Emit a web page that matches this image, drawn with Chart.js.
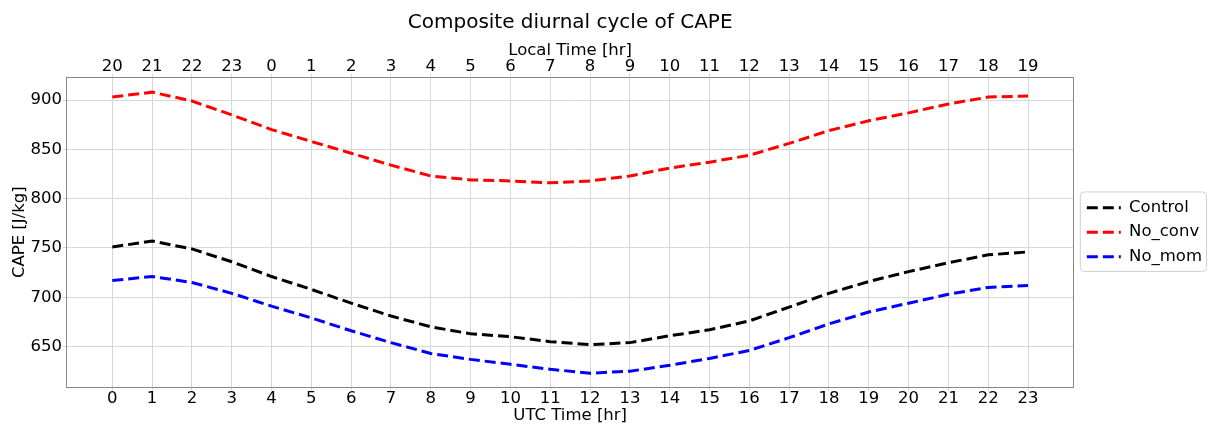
<!DOCTYPE html>
<html>
<head>
<meta charset="utf-8">
<script src="https://cdn.jsdelivr.net/npm/chart.js@4.4.0/dist/chart.umd.min.js"></script>
<style>
  html, body { margin: 0; padding: 0; background: #fff; }
  #wrap { width: 1212px; height: 425px; }
</style>
</head>
<body>
<div id="wrap"><canvas id="capeChart"></canvas></div>
<script>
const utcHours = [0, 1, 2, 3, 4, 5, 6, 7, 8, 9, 10, 11, 12, 13, 14, 15, 16, 17, 18, 19, 20, 21, 22, 23];
const localHours = [20, 21, 22, 23, 0, 1, 2, 3, 4, 5, 6, 7, 8, 9, 10, 11, 12, 13, 14, 15, 16, 17, 18, 19];
const capeTicks = [650, 700, 750, 800, 850, 900];

const control = [751, 757, 749, 736, 721, 708, 694, 681, 670, 663, 660, 655, 652, 654, 661, 667, 676, 690, 704, 716, 726, 735, 743, 746];
const noConv = [903, 908, 899, 885, 870, 858, 846, 834, 823, 819, 818, 816, 818, 823, 831, 837, 844, 856, 869, 879, 887, 896, 903, 904];
const noMom = [717, 721, 715, 704, 691, 679, 666, 654, 643, 637, 632, 627, 623, 625, 631, 638, 646, 659, 673, 685, 694, 703, 710, 712];

const fontName = "'DejaVu Sans', sans-serif";
const tickFont = { family: fontName, size: 16.5, lineHeight: 1 };

function series(label, values, color) {
  return {
    label: label,
    data: utcHours.map((h, i) => ({ x: h, y: values[i] })),
    borderColor: color,
    backgroundColor: color,
    borderWidth: 3,
    borderDash: [11, 5],
    pointRadius: 0,
    pointStyle: 'line',
    tension: 0,
    fill: false
  };
}

// rounded border round the legend, like matplotlib's legend frame
const legendFrame = {
  id: 'legendFrame',
  afterDraw(chart) {
    const boxes = chart.legend.legendHitBoxes;
    if (!boxes || !boxes.length) return;
    const ctx = chart.ctx;
    const l = Math.min(...boxes.map(b => b.left)) - 7;
    const t = Math.min(...boxes.map(b => b.top)) - 8;
    const r = Math.max(...boxes.map(b => b.left + b.width)) + 4;
    const btm = Math.max(...boxes.map(b => b.top + b.height)) + 6;
    ctx.save();
    ctx.strokeStyle = '#d0d0d0';
    ctx.lineWidth = 1;
    ctx.beginPath();
    ctx.roundRect(l + 0.5, t + 0.5, r - l, btm - t, 4);
    ctx.stroke();
    ctx.restore();
  }
};

const xCommon = {
  type: 'linear',
  min: -1.15,
  max: 24.15,
  afterBuildTicks: (axis) => { axis.ticks = utcHours.map(v => ({ value: v })); }
};

new Chart(document.getElementById('capeChart'), {
  type: 'line',
  data: {
    datasets: [
      series('Control', control, '#000000'),
      series('No_conv', noConv, '#ff0000'),
      series('No_mom', noMom, '#0000ff')
    ]
  },
  options: {
    responsive: true,
    maintainAspectRatio: false,
    animation: false,
    devicePixelRatio: 1,
    layout: { padding: { left: 6, right: 0, top: 0, bottom: 1.5 } },
    scales: {
      x: {
        ...xCommon,
        position: 'bottom',
        ticks: { autoSkip: false, maxRotation: 0, color: '#000', font: tickFont, padding: 0 },
        grid: { color: '#d8d8d8', tickLength: 3.5 },
        border: { color: '#888' },
        title: { display: true, text: 'UTC Time [hr]', color: '#000', font: tickFont, padding: 0 }
      },
      x2: {
        ...xCommon,
        position: 'top',
        ticks: {
          autoSkip: false, maxRotation: 0, color: '#000', padding: 0,
          font: { family: fontName, size: 16.5, lineHeight: 0.9 },
          callback: (v) => localHours[utcHours.indexOf(v)]
        },
        grid: { drawOnChartArea: false, color: '#d8d8d8', tickLength: 3.5 },
        border: { color: '#888' },
        title: { display: true, text: 'Local Time [hr]', color: '#000', font: tickFont, padding: 0 }
      },
      y: {
        min: 609,
        max: 923,
        afterBuildTicks: (axis) => { axis.ticks = capeTicks.map(v => ({ value: v })); },
        ticks: { color: '#000', font: tickFont, padding: 1 },
        grid: { color: '#d8d8d8', tickLength: 3.5 },
        border: { color: '#888' },
        title: { display: true, text: 'CAPE [J/kg]', color: '#000', font: tickFont, padding: { top: 5, bottom: 2 } }
      },
      // right spine only, no ticks
      y2: {
        position: 'right',
        min: 609,
        max: 923,
        ticks: { display: false },
        grid: { drawOnChartArea: false, drawTicks: false },
        border: { color: '#888' },
        afterFit: (axis) => { axis.width = 5; }
      }
    },
    plugins: {
      title: {
        display: true,
        fullSize: false,
        text: 'Composite diurnal cycle of CAPE',
        color: '#000',
        font: { family: fontName, size: 20, weight: 'normal', lineHeight: 1.2 },
        padding: { top: 10.5, bottom: 8 }
      },
      legend: {
        position: 'right',
        fullSize: false,
        labels: {
          color: '#000',
          font: { family: fontName, size: 16.5 },
          usePointStyle: true,
          pointStyleWidth: 34,
          boxHeight: 16.5,
          padding: 8,
          // keep the dashed look of each line in its legend sample
          generateLabels: (chart) => Chart.defaults.plugins.legend.labels.generateLabels(chart)
            .map((item, i) => ({ ...item, lineDash: chart.data.datasets[i].borderDash, lineWidth: 3 }))
        }
      },
      tooltip: { enabled: false }
    }
  },
  plugins: [legendFrame]
});
</script>
</body>
</html>
